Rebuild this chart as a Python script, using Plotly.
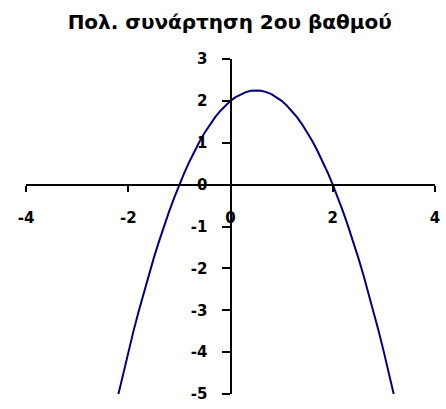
import plotly.graph_objects as go

# Quadratic sampled at 0.1 steps
x_vals = [-2.2, -2.1, -2.0, -1.9, -1.8, -1.7, -1.6, -1.5, -1.4, -1.3, -1.2, -1.1,
          -1.0, -0.9, -0.8, -0.7, -0.6, -0.5, -0.4, -0.3, -0.2, -0.1, 0.0,
          0.1, 0.2, 0.3, 0.4, 0.5, 0.6, 0.7, 0.8, 0.9, 1.0, 1.1, 1.2, 1.3,
          1.4, 1.5, 1.6, 1.7, 1.8, 1.9, 2.0, 2.1, 2.2, 2.3, 2.4, 2.5, 2.6,
          2.7, 2.8, 2.9, 3.0, 3.1, 3.2]
y_vals = [-5.04, -4.51, -4.0, -3.51, -3.04, -2.59, -2.16, -1.75, -1.36, -0.99, -0.64, -0.31,
          0.0, 0.29, 0.56, 0.81, 1.04, 1.25, 1.44, 1.61, 1.76, 1.89, 2.0,
          2.09, 2.16, 2.21, 2.24, 2.25, 2.24, 2.21, 2.16, 2.09, 2.0, 1.89, 1.76, 1.61,
          1.44, 1.25, 1.04, 0.81, 0.56, 0.29, 0.0, -0.31, -0.64, -0.99, -1.36, -1.75, -2.16,
          -2.59, -3.04, -3.51, -4.0, -4.51, -5.04]

x_ticks = [-4, -2, 0, 2, 4]
y_ticks = [3, 2, 1, 0, -1, -2, -3, -4, -5]

title_text = "Πολ. συνάρτηση 2ου βαθμού"

font_family = "DejaVu Sans, Arial, sans-serif"

fig = go.Figure(
    go.Scatter(
        x=x_vals, y=y_vals, mode="lines",
        line=dict(color="#000080", width=2),
        hoverinfo="skip",
    )
)

x_range = [-4, 4]
y_range = [-5, 3]

fig.update_layout(
    width=446, height=409,
    margin=dict(l=26, r=6, t=59, b=10),
    paper_bgcolor="white", plot_bgcolor="white",
    showlegend=False,
    title=dict(
        text=title_text, x=0.515, xanchor="center", y=1 - 22 / 409, yanchor="middle",
        font=dict(family=font_family, size=20, color="black", weight="bold"),
    ),
    xaxis=dict(
        range=x_range, tickvals=x_ticks, ticktext=[str(v) for v in x_ticks],
        anchor="free", position=(0 - y_range[0]) / (y_range[1] - y_range[0]),
        showline=True, linecolor="black", linewidth=2,
        ticks="outside", ticklen=6, tickwidth=2, tickcolor="black",
        ticklabelstandoff=13,
        showgrid=False, zeroline=False,
        tickfont=dict(family=font_family, size=15, color="black", weight="bold"),
    ),
    yaxis=dict(
        range=y_range, tickvals=y_ticks, ticktext=[str(v) for v in y_ticks],
        anchor="free", position=(0 - x_range[0]) / (x_range[1] - x_range[0]),
        showline=True, linecolor="black", linewidth=2,
        ticks="outside", ticklen=8, tickwidth=2, tickcolor="black",
        ticklabelstandoff=11,
        showgrid=False, zeroline=False,
        tickfont=dict(family=font_family, size=15, color="black", weight="bold"),
    ),
)

fig.write_html("out.html")
